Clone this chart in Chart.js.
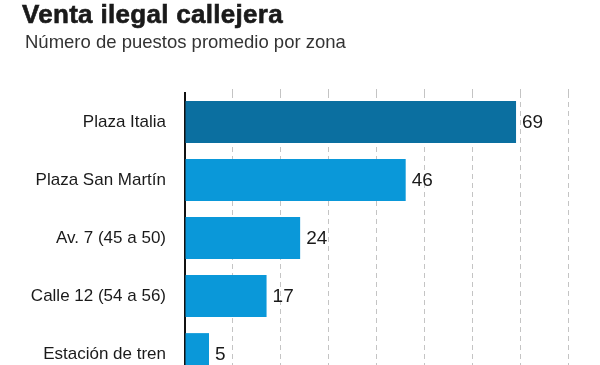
<!DOCTYPE html>
<html lang="es">
<head>
<meta charset="utf-8">
<title>Venta ilegal callejera</title>
<script src="https://cdn.jsdelivr.net/npm/chart.js@4"></script>
<style>
  html, body {
    margin: 0;
    padding: 0;
    background: #fff;
    overflow: hidden;
  }
  #wrap {
    position: relative;
    width: 600px;
    height: 390px;
  }
  #title {
    position: absolute;
    left: 22px;
    top: 1px;
    margin: 0;
    font: bold 26px/26px "Liberation Sans", Arial, sans-serif;
    letter-spacing: 0.3px;
    -webkit-text-stroke: 0.6px #1a1a1a;
    color: #1a1a1a;
    white-space: nowrap;
  }
  #subtitle {
    position: absolute;
    left: 25px;
    top: 33px;
    margin: 0;
    font: 18.5px/18.5px "Liberation Sans", Arial, sans-serif;
    color: #333;
    white-space: nowrap;
  }
  #chartBox {
    position: absolute;
    left: 0;
    top: 0;
    width: 600px;
    height: 390px;
  }
</style>
</head>
<body>
<div id="wrap">
  <div id="chartBox"><canvas id="chart"></canvas></div>
  <h1 id="title">Venta ilegal callejera</h1>
  <p id="subtitle">Número de puestos promedio por zona</p>
</div>
<script>
// Data
const zonas = ['Plaza Italia', 'Plaza San Martín', 'Av. 7 (45 a 50)', 'Calle 12 (54 a 56)', 'Estación de tren'];
const puestos = [69, 46, 24, 17, 5];
const xTickStep = 10;
const xMax = 86.5;

const colors = {
    highlight: '#0b6fa0',
    normal: '#0a98d9',
    grid: '#c4c4c4',
    axis: '#111111',
    text: '#1a1a1a'
};

// Draws the value at the end of each bar
const valueLabels = {
    id: 'valueLabels',
    afterDatasetsDraw(chart) {
        const ctx = chart.ctx;
        const meta = chart.getDatasetMeta(0);
        ctx.save();
        ctx.font = '19px "Liberation Sans", Arial, sans-serif';
        ctx.fillStyle = colors.text;
        ctx.textAlign = 'left';
        ctx.textBaseline = 'middle';
        meta.data.forEach((bar, i) => {
            ctx.fillText(String(puestos[i]), bar.x + 6, bar.y + 1);
        });
        ctx.restore();
    }
};

const ctx = document.getElementById('chart').getContext('2d');
new Chart(ctx, {
    type: 'bar',
    data: {
        labels: zonas,
        datasets: [{
            data: puestos,
            backgroundColor: puestos.map((v, i) => i === 0 ? colors.highlight : colors.normal),
            borderWidth: 0,
            categoryPercentage: 1,
            barPercentage: 0.72
        }]
    },
    options: {
        indexAxis: 'y',
        responsive: true,
        maintainAspectRatio: false,
        animation: false,
        layout: {
            // canvas is taller than the window: the last row gets cut off, as in the original
            padding: { top: 89, left: 0, right: 0, bottom: 7 }
        },
        plugins: {
            legend: { display: false },
            tooltip: { enabled: false }
        },
        scales: {
            x: {
                position: 'top',
                min: 0,
                max: xMax,
                ticks: {
                    display: false,
                    stepSize: xTickStep,
                    includeBounds: false
                },
                grid: {
                    color: (c) => c.tick && c.tick.value === 0 ? 'rgba(0,0,0,0)' : colors.grid,
                    lineWidth: 1,
                    tickBorderDash: [5, 4],
                    drawTicks: true,
                    tickLength: 4
                },
                border: { display: false, dash: [5, 4] }
            },
            y: {
                z: 1,
                afterFit(scale) {
                    scale.width = 185;
                    // labels must not push the plot area in from top/bottom
                    scale.paddingTop = 0;
                    scale.paddingBottom = 0;
                },
                ticks: {
                    padding: 19,
                    color: colors.text,
                    font: {
                        family: '"Liberation Sans", Arial, sans-serif',
                        size: 17
                    }
                },
                grid: { display: false, drawTicks: false },
                border: {
                    display: true,
                    color: colors.axis,
                    width: 2
                }
            }
        }
    },
    plugins: [valueLabels]
});
</script>
</body>
</html>
